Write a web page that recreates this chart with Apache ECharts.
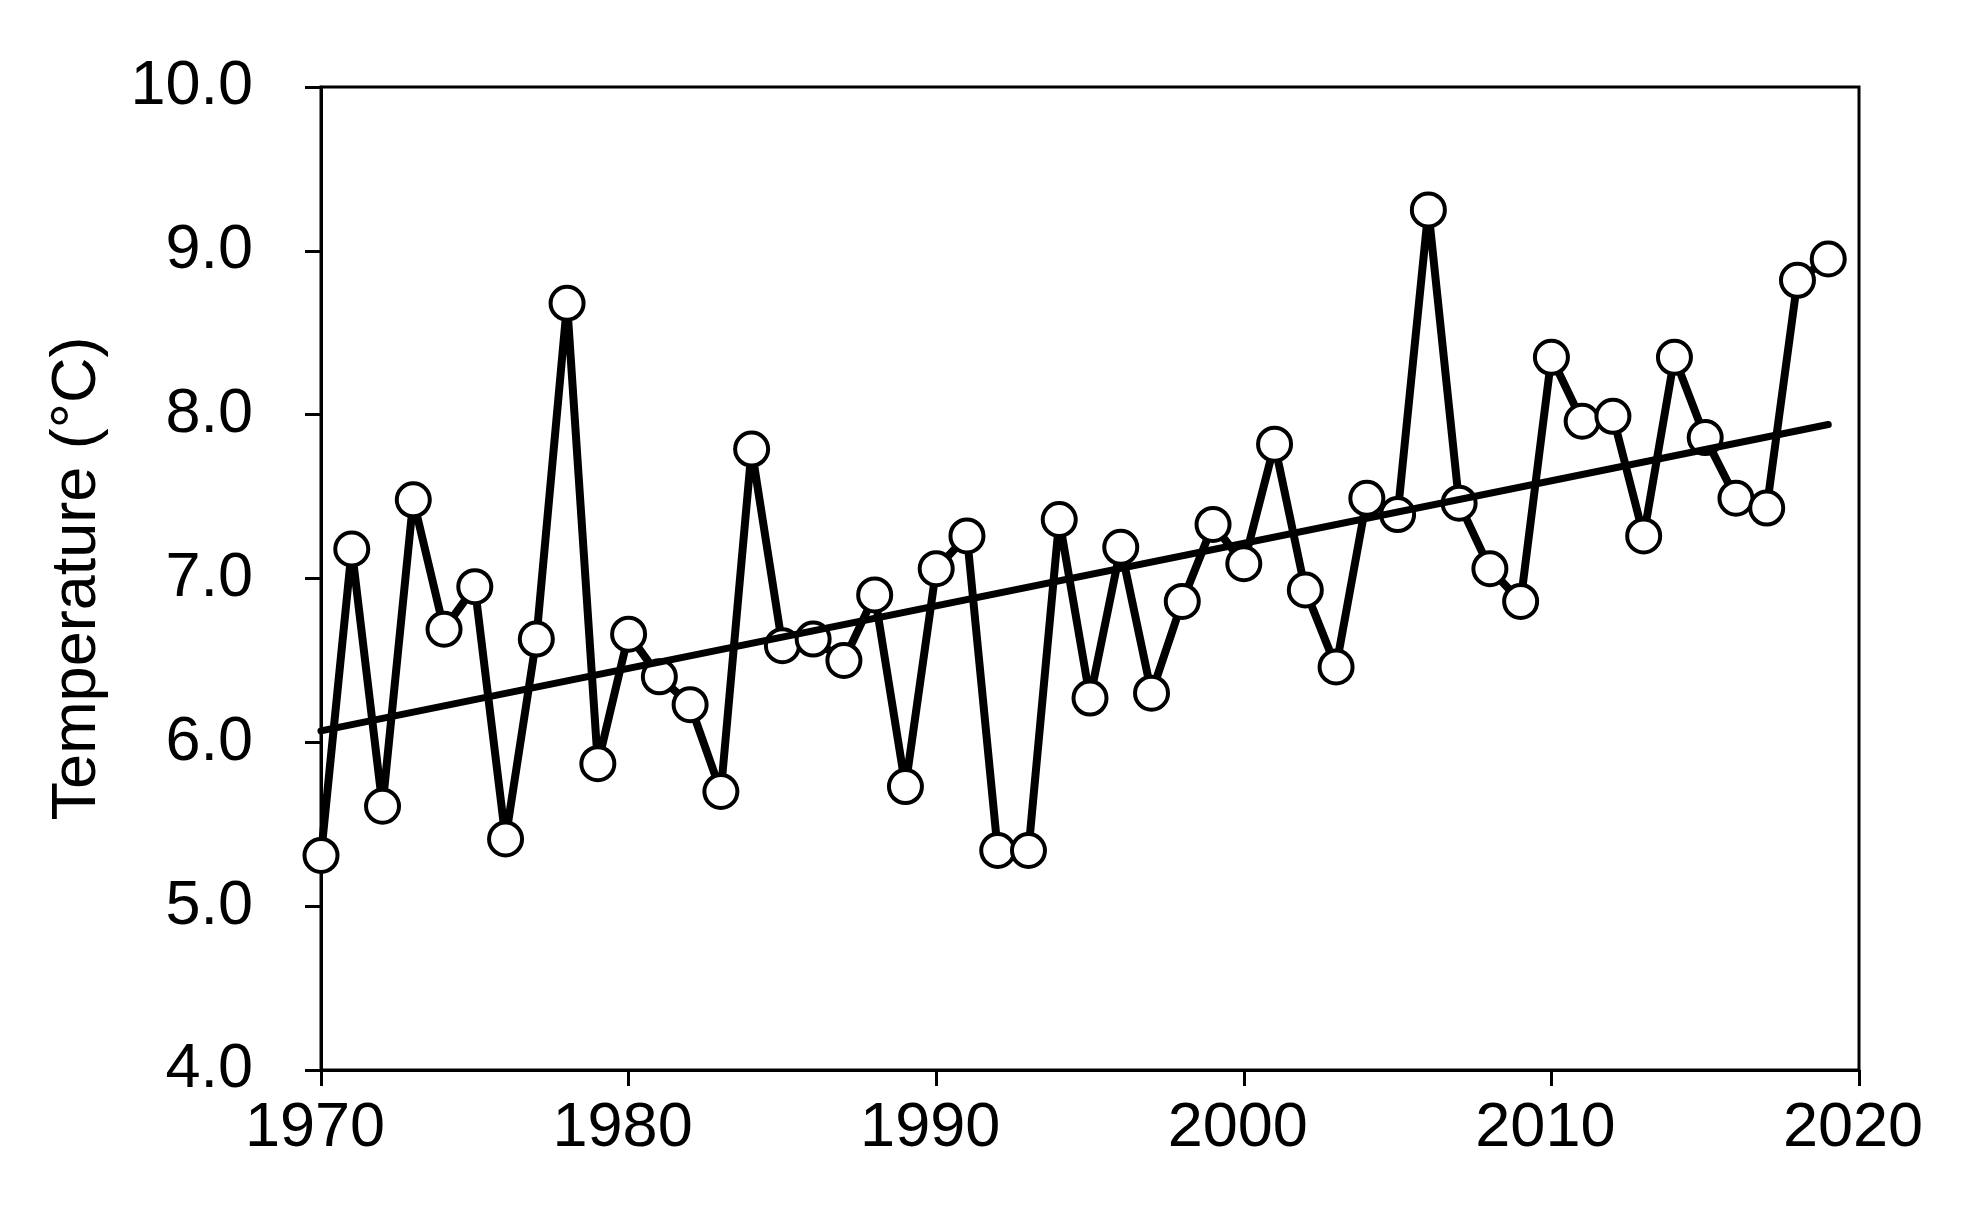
<!DOCTYPE html>
<html>
<head>
<meta charset="utf-8">
<script src="https://cdn.jsdelivr.net/npm/echarts@6/dist/echarts.min.js"></script>
<style>
html,body{margin:0;padding:0;background:#fff;}
#chart{width:1968px;height:1218px;}
</style>
</head>
<body>
<div id="chart"></div>
<script>
const years = [1970,1971,1972,1973,1974,1975,1976,1977,1978,1979,
               1980,1981,1982,1983,1984,1985,1986,1987,1988,1989,
               1990,1991,1992,1993,1994,1995,1996,1997,1998,1999,
               2000,2001,2002,2003,2004,2005,2006,2007,2008,2009,
               2010,2011,2012,2013,2014,2015,2016,2017,2018,2019];
const temps = [5.31,7.18,5.61,7.48,6.69,6.95,5.41,6.63,8.68,5.87,
               6.66,6.40,6.23,5.70,7.79,6.59,6.63,6.50,6.90,5.73,
               7.06,7.26,5.34,5.34,7.36,6.27,7.19,6.30,6.86,7.33,
               7.09,7.82,6.93,6.46,7.49,7.39,9.25,7.46,7.06,6.86,
               8.35,7.96,7.99,7.26,8.35,7.86,7.49,7.43,8.82,8.95];
const trendYears = [1970, 2019];
const trendValues = [6.07, 7.94];
const yTicks = [4,5,6,7,8,9,10];
const xTicks = [1970,1980,1990,2000,2010,2020];
const yTitle = 'Temperature (°C)';

const FONT = '"Liberation Sans", Arial, Helvetica, sans-serif';
const chart = echarts.init(document.getElementById('chart'), null, {renderer:'canvas'});
chart.setOption({
  backgroundColor:'#fff',
  animation:false,
  grid:{left:321,right:109,top:87,bottom:148,show:true,borderColor:'#000',borderWidth:3,containLabel:false},
  xAxis:{
    type:'value',min:xTicks[0],max:xTicks[xTicks.length-1],interval:10,
    axisLine:{show:true,onZero:false,lineStyle:{color:'#000',width:3}},
    axisTick:{show:true,inside:false,length:16,lineStyle:{color:'#000',width:3}},
    axisLabel:{color:'#000',fontSize:63,fontFamily:FONT,margin:27,padding:[0,12,0,0],formatter:v=>String(v)},
    splitLine:{show:false}
  },
  yAxis:{
    type:'value',min:yTicks[0],max:yTicks[yTicks.length-1],interval:1,
    name:yTitle,nameLocation:'middle',nameRotate:90,nameGap:212,
    nameTextStyle:{color:'#000',fontSize:63,fontFamily:FONT},
    axisLine:{show:true,onZero:false,lineStyle:{color:'#000',width:3}},
    axisTick:{show:true,inside:false,length:16,lineStyle:{color:'#000',width:3}},
    axisLabel:{color:'#000',fontSize:63,fontFamily:FONT,margin:68,padding:[0,0,10,0],formatter:v=>v.toFixed(1)},
    splitLine:{show:false}
  },
  series:[
    {
      type:'line',
      data:years.map((y,i)=>[y,temps[i]]),
      symbol:'circle',symbolSize:33,showAllSymbol:true,
      itemStyle:{color:'#fff',borderColor:'#000',borderWidth:4},
      lineStyle:{color:'#000',width:8,join:'round'},
      z:2
    },
    {
      type:'line',
      data:trendYears.map((y,i)=>[y,trendValues[i]]),
      symbol:'none',
      lineStyle:{color:'#000',width:7,cap:'round'},
      z:3
    }
  ]
});
</script>
</body>
</html>
